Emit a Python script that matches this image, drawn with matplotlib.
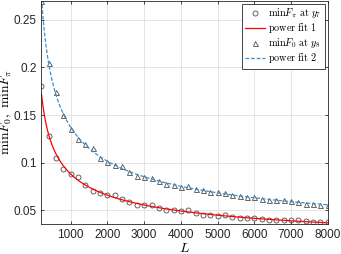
import numpy as np
import matplotlib
matplotlib.use('Agg')
import matplotlib.pyplot as plt

plt.rcParams['mathtext.fontset'] = 'cm'
plt.rcParams['font.family'] = ['Liberation Sans', 'DejaVu Sans']

# data
L = np.arange(200, 8001, 200)
minF_pi = [0.180, 0.128, 0.105, 0.0933, 0.0877, 0.0848, 0.0763, 0.0706, 0.0678, 0.0664,
           0.0656, 0.0614, 0.0585, 0.0560, 0.0550, 0.0550, 0.0525, 0.0507, 0.0500, 0.0493,
           0.0500, 0.0472, 0.0454, 0.0447, 0.0444, 0.0447, 0.0430, 0.0419, 0.0415, 0.0419,
           0.0412, 0.0401, 0.0394, 0.0394, 0.0394, 0.0397, 0.0383, 0.0372, 0.0372, 0.0372]
minF_0 = [0.270, 0.205, 0.174, 0.150, 0.135, 0.125, 0.1199, 0.1153, 0.1053, 0.1004,
          0.0976, 0.0965, 0.0905, 0.0862, 0.0845, 0.0834, 0.0805, 0.0780, 0.0763, 0.0749,
          0.0752, 0.0720, 0.0710, 0.0692, 0.0692, 0.0678, 0.0656, 0.0646, 0.0638, 0.0638,
          0.0614, 0.0603, 0.0606, 0.0603, 0.0596, 0.0585, 0.0568, 0.0568, 0.0560, 0.0553]

# power fits  y = a * L^b
p1 = np.polyfit(np.log(L), np.log(minF_pi), 1)
p2 = np.polyfit(np.log(L), np.log(minF_0), 1)
Lf = np.linspace(200, 8000, 400)

fig = plt.figure(figsize=(3.41, 2.54), dpi=100)
ax = fig.add_axes([0.1214, 0.118, 0.8396, 0.879])

ax.plot(L, minF_pi, 'o', mfc='none', mec='0.3', ms=3.6, mew=0.6,
        label=r'$\min F_\pi\ \mathrm{at}\ y_7$')
ax.plot(Lf, np.exp(np.polyval(p1, np.log(Lf))), '-', color='red', lw=0.9,
        label=r'$\mathrm{power\ fit\ 1}$')
ax.plot(L, minF_0, '^', mfc='none', mec='0.3', ms=3.6, mew=0.6,
        label=r'$\min F_0\ \mathrm{at}\ y_8$')
ax.plot(Lf, np.exp(np.polyval(p2, np.log(Lf))), '--', color='#3a8fd0', lw=0.9,
        dashes=(3, 1.5), label=r'$\mathrm{power\ fit\ 2}$')

ax.set_xlim(200, 8000)
ax.set_ylim(0.0355, 0.27)
ax.set_xticks(np.arange(1000, 8001, 1000))
ax.set_yticks([0.05, 0.1, 0.15, 0.2, 0.25])
ax.set_yticklabels(['0.05', '0.1', '0.15', '0.2', '0.25'])
ax.grid(True, color='0.88', lw=0.6)
ax.tick_params(direction='in', top=True, right=True, labelsize=8.5, colors='0.15',
               length=2.5, width=0.6)
for s in ax.spines.values():
    s.set_color('0.15')
    s.set_linewidth(0.6)

ax.set_xlabel(r'$L$', fontsize=10, labelpad=0)
ax.set_ylabel(r'$\min F_0,\ \min F_\pi$', fontsize=9.8)
ax.yaxis.set_label_coords(-0.095, 0.5)

leg = ax.legend(loc='upper right', fontsize=7.3, fancybox=False, edgecolor='0.15',
                framealpha=1, handlelength=2.0, handletextpad=0.3, borderpad=0.3,
                labelspacing=0.1, borderaxespad=0.3)
leg.get_frame().set_linewidth(0.6)

fig.savefig('out.png', dpi=100)
